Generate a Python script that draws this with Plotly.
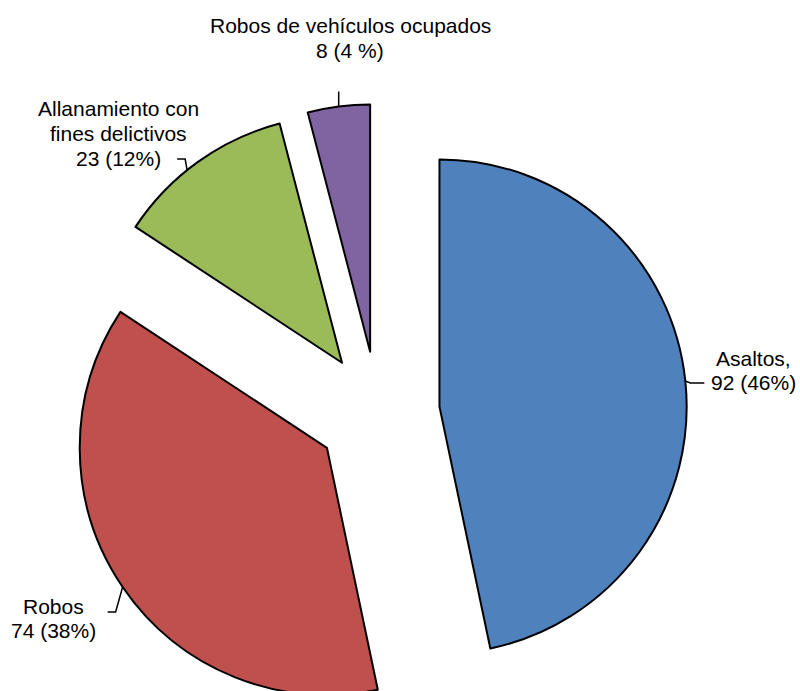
import math
import plotly.graph_objects as go

# ---- data ----
categories = ["Asaltos", "Robos", "Allanamiento con fines delictivos", "Robos de vehículos ocupados"]
values = [92, 74, 23, 8]
pct_labels = ["46%", "38%", "12%", "4 %"]
label_lines = [
    ["Asaltos,"],
    ["Robos"],
    ["Allanamiento con", "fines delictivos"],
    ["Robos de vehículos ocupados"],
]

# ---- style ----
colors = ["#4F81BD", "#C0504D", "#9BBB59", "#8064A2"]
W, H = 800, 725
CX, CY = 378, 413          # pie centre in pixels
PULL = 0.25
HALF = 309                 # half-size of the pie domain (r * (1 + pull))
R = HALF / (1 + PULL)
FONT = "Liberation Sans, Arial, sans-serif"
FS = 21

# label placement (pixels): centre x, baseline of first line, line spacing
label_pos = [(753, 365, 23.5), (53, 613, 24), (118, 115, 25), (350, 32, 25)]
# where along each slice's arc the leader attaches (fraction of slice)
attach_frac = [0.5, 0.5, 0.425, 0.5]
# leader bends relative to attach point
leader_offsets = [
    [(5, 2), (19, 2)],
    [(-7, 25), (-15, 25)],
    [(-2, -11), (-10, -11)],
    [(0, -15)],
]


def px(x):
    return x / W


def py(y):
    return (H - y) / H


fig = go.Figure(
    go.Pie(
        labels=categories,
        values=values,
        sort=False,
        direction="clockwise",
        rotation=0,
        pull=[PULL] * len(values),
        marker=dict(colors=colors, line=dict(color="black", width=2)),
        textinfo="none",
        hoverinfo="label+value+percent",
        showlegend=False,
        domain=dict(x=[px(CX - HALF), px(CX + HALF)], y=[py(CY + HALF), py(CY - HALF)]),
    )
)

total = sum(values)
annotations = []
shapes = []
cum = 0.0
for i, v in enumerate(values):
    start = cum / total * 360
    span = v / total * 360
    cum += v
    mid = math.radians(start + span / 2)
    att = math.radians(start + span * attach_frac[i])
    # slice centre after pull
    sx = CX + PULL * R * math.sin(mid)
    sy = CY - PULL * R * math.cos(mid)
    ax = sx + R * math.sin(att)
    ay = sy - R * math.cos(att)
    pts = [(ax, ay)] + [(ax + dx, ay + dy) for dx, dy in leader_offsets[i]]
    path = "M " + " L ".join(f"{px(x):.5f},{py(y):.5f}" for x, y in pts)
    shapes.append(dict(type="path", xref="paper", yref="paper", path=path,
                       line=dict(color="black", width=1.5)))

    lines = label_lines[i] + [f"{v} ({pct_labels[i]})"]
    lx, base, gap = label_pos[i]
    for k, line in enumerate(lines):
        top = base + k * gap - 0.95 * FS
        annotations.append(dict(
            x=px(lx), y=py(top), xref="paper", yref="paper",
            xanchor="center", yanchor="top", align="center",
            text=line, showarrow=False,
            font=dict(family=FONT, size=FS, color="black"),
        ))

fig.update_layout(
    width=W, height=H,
    margin=dict(l=0, r=0, t=0, b=0),
    paper_bgcolor="white",
    plot_bgcolor="white",
    annotations=annotations,
    shapes=shapes,
)

fig.write_html(
    "out.html",
    config={"displayModeBar": False},
    post_script=(
        "document.body.style.margin='0';"
        "document.documentElement.style.overflow='hidden';"
        "document.body.style.overflow='hidden';"
    ),
)
